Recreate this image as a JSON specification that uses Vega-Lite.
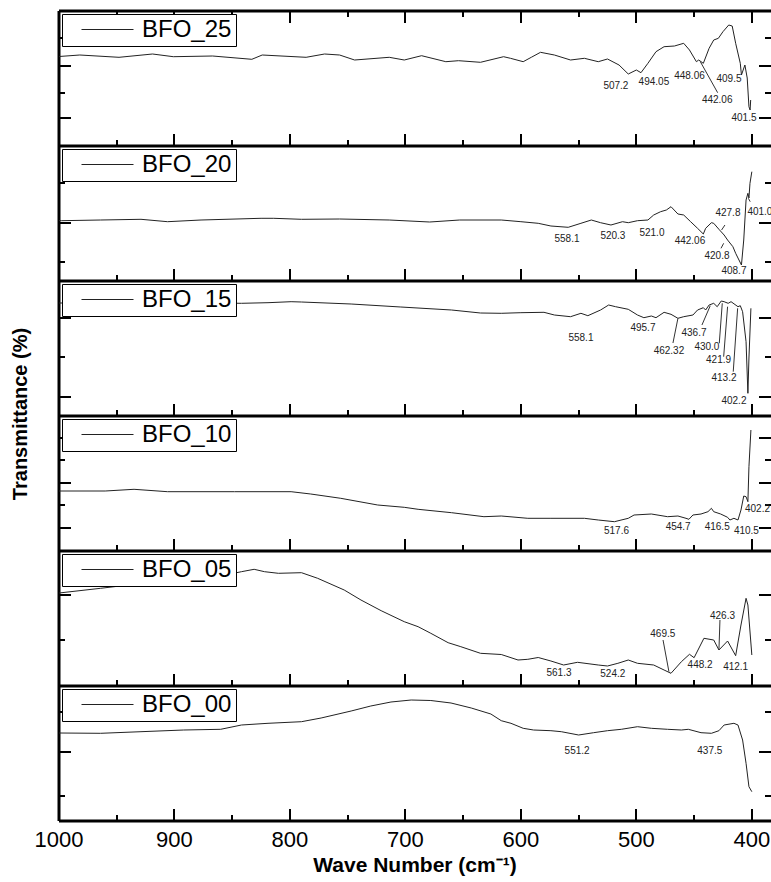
{
  "$schema": "https://vega.github.io/schema/vega-lite/v6.json",
  "background": "white",
  "padding": {"left": 10, "top": 10, "right": 0, "bottom": 0},
  "autosize": {"type": "pad"},
  "spacing": 0,
  "bounds": "flush",
  "resolve": {"scale": {"color": "independent"}, "legend": {"color": "independent"}},
  "datasets": {
    "spectra": [
      {"s":"BFO_25","w":1000,"t":89.5},{"s":"BFO_25","w":982,"t":91},{"s":"BFO_25","w":948,"t":88.7},{"s":"BFO_25","w":919,"t":92},{"s":"BFO_25","w":901,"t":89.3},{"s":"BFO_25","w":867,"t":90},{"s":"BFO_25","w":833,"t":86.7},{"s":"BFO_25","w":824,"t":91},{"s":"BFO_25","w":786,"t":88.7},{"s":"BFO_25","w":770,"t":92},{"s":"BFO_25","w":757,"t":91},{"s":"BFO_25","w":744,"t":86},{"s":"BFO_25","w":714,"t":88.7},{"s":"BFO_25","w":701,"t":86},{"s":"BFO_25","w":686,"t":90.3},{"s":"BFO_25","w":665,"t":84.3},{"s":"BFO_25","w":654,"t":85.3},{"s":"BFO_25","w":635,"t":83.7},{"s":"BFO_25","w":615,"t":89.3},{"s":"BFO_25","w":609,"t":87.7},{"s":"BFO_25","w":598,"t":84.3},{"s":"BFO_25","w":591,"t":88.7},{"s":"BFO_25","w":583,"t":93.7},{"s":"BFO_25","w":571,"t":91},{"s":"BFO_25","w":557,"t":86},{"s":"BFO_25","w":545,"t":87.7},{"s":"BFO_25","w":533,"t":84.3},{"s":"BFO_25","w":525,"t":87},{"s":"BFO_25","w":515,"t":81},{"s":"BFO_25","w":507,"t":72},{"s":"BFO_25","w":500,"t":76},{"s":"BFO_25","w":496,"t":73.3},{"s":"BFO_25","w":490,"t":82.7},{"s":"BFO_25","w":483,"t":94.3},{"s":"BFO_25","w":476,"t":99.3},{"s":"BFO_25","w":467,"t":100},{"s":"BFO_25","w":459,"t":102.7},{"s":"BFO_25","w":454,"t":96},{"s":"BFO_25","w":448,"t":84.3},{"s":"BFO_25","w":446,"t":86},{"s":"BFO_25","w":442,"t":82.7},{"s":"BFO_25","w":437,"t":97.7},{"s":"BFO_25","w":433,"t":106},{"s":"BFO_25","w":429,"t":107.7},{"s":"BFO_25","w":425,"t":114.3},{"s":"BFO_25","w":420,"t":121},{"s":"BFO_25","w":417,"t":120},{"s":"BFO_25","w":414,"t":102.7},{"s":"BFO_25","w":410,"t":82.7},{"s":"BFO_25","w":409,"t":71},{"s":"BFO_25","w":406,"t":81},{"s":"BFO_25","w":404,"t":68},{"s":"BFO_25","w":402.5,"t":39.3},{"s":"BFO_25","w":401.5,"t":36},{"s":"BFO_25","w":401,"t":46},
      {"s":"BFO_20","w":1000,"t":60.5},{"s":"BFO_20","w":998,"t":60.3},{"s":"BFO_20","w":964,"t":61},{"s":"BFO_20","w":929,"t":61.7},{"s":"BFO_20","w":906,"t":59.3},{"s":"BFO_20","w":877,"t":61},{"s":"BFO_20","w":825,"t":62.7},{"s":"BFO_20","w":814,"t":62.7},{"s":"BFO_20","w":790,"t":61.7},{"s":"BFO_20","w":757,"t":62},{"s":"BFO_20","w":714,"t":61},{"s":"BFO_20","w":679,"t":59},{"s":"BFO_20","w":653,"t":61},{"s":"BFO_20","w":617,"t":61},{"s":"BFO_20","w":600,"t":59.3},{"s":"BFO_20","w":585,"t":57.7},{"s":"BFO_20","w":574,"t":55},{"s":"BFO_20","w":559,"t":53.7},{"s":"BFO_20","w":548,"t":57.7},{"s":"BFO_20","w":539,"t":61},{"s":"BFO_20","w":531,"t":58.3},{"s":"BFO_20","w":522,"t":56},{"s":"BFO_20","w":512,"t":59.3},{"s":"BFO_20","w":507,"t":58.3},{"s":"BFO_20","w":499,"t":60.3},{"s":"BFO_20","w":490,"t":61},{"s":"BFO_20","w":485,"t":66},{"s":"BFO_20","w":479,"t":69.3},{"s":"BFO_20","w":474,"t":71},{"s":"BFO_20","w":470,"t":74.3},{"s":"BFO_20","w":464,"t":67},{"s":"BFO_20","w":459,"t":66},{"s":"BFO_20","w":453,"t":59.3},{"s":"BFO_20","w":447,"t":52.7},{"s":"BFO_20","w":442,"t":47},{"s":"BFO_20","w":440,"t":52.7},{"s":"BFO_20","w":435,"t":58.3},{"s":"BFO_20","w":433,"t":57.7},{"s":"BFO_20","w":428.5,"t":51.7},{"s":"BFO_20","w":424,"t":46},{"s":"BFO_20","w":421,"t":41},{"s":"BFO_20","w":416.4,"t":34.3},{"s":"BFO_20","w":414,"t":27.7},{"s":"BFO_20","w":409,"t":16},{"s":"BFO_20","w":407,"t":41},{"s":"BFO_20","w":405,"t":81},{"s":"BFO_20","w":403.4,"t":87.7},{"s":"BFO_20","w":402.5,"t":83},{"s":"BFO_20","w":401.6,"t":97.7},{"s":"BFO_20","w":400,"t":109.3},
      {"s":"BFO_15","w":1000,"t":113},{"s":"BFO_15","w":950,"t":113},{"s":"BFO_15","w":900,"t":113.5},{"s":"BFO_15","w":842,"t":112.7},{"s":"BFO_15","w":819,"t":113.3},{"s":"BFO_15","w":799,"t":114.3},{"s":"BFO_15","w":790,"t":114},{"s":"BFO_15","w":747,"t":112},{"s":"BFO_15","w":704,"t":109},{"s":"BFO_15","w":660,"t":106},{"s":"BFO_15","w":635,"t":103},{"s":"BFO_15","w":617,"t":102.7},{"s":"BFO_15","w":600,"t":103.3},{"s":"BFO_15","w":580,"t":103.7},{"s":"BFO_15","w":571,"t":101},{"s":"BFO_15","w":557,"t":99.3},{"s":"BFO_15","w":548,"t":102.7},{"s":"BFO_15","w":542,"t":100.3},{"s":"BFO_15","w":531,"t":106},{"s":"BFO_15","w":524,"t":111},{"s":"BFO_15","w":518,"t":109.3},{"s":"BFO_15","w":507,"t":106.7},{"s":"BFO_15","w":499,"t":101},{"s":"BFO_15","w":493.5,"t":98.3},{"s":"BFO_15","w":487,"t":100},{"s":"BFO_15","w":483,"t":98.3},{"s":"BFO_15","w":476,"t":103.7},{"s":"BFO_15","w":470,"t":101.7},{"s":"BFO_15","w":464,"t":97.7},{"s":"BFO_15","w":459,"t":99.3},{"s":"BFO_15","w":451,"t":101},{"s":"BFO_15","w":447,"t":106},{"s":"BFO_15","w":442,"t":108.3},{"s":"BFO_15","w":440,"t":106},{"s":"BFO_15","w":437,"t":111},{"s":"BFO_15","w":433,"t":112.7},{"s":"BFO_15","w":430,"t":109.3},{"s":"BFO_15","w":426.5,"t":115},{"s":"BFO_15","w":424,"t":114.3},{"s":"BFO_15","w":420.5,"t":112.7},{"s":"BFO_15","w":418,"t":114.3},{"s":"BFO_15","w":412,"t":109.3},{"s":"BFO_15","w":410,"t":110.3},{"s":"BFO_15","w":408,"t":104.3},{"s":"BFO_15","w":405,"t":74.3},{"s":"BFO_15","w":403.4,"t":22.7},{"s":"BFO_15","w":402.5,"t":58},{"s":"BFO_15","w":400.8,"t":107.7},
      {"s":"BFO_10","w":1000,"t":60},{"s":"BFO_10","w":960,"t":60},{"s":"BFO_10","w":935,"t":61.7},{"s":"BFO_10","w":906,"t":59.3},{"s":"BFO_10","w":848,"t":59.3},{"s":"BFO_10","w":799,"t":59.3},{"s":"BFO_10","w":782,"t":57},{"s":"BFO_10","w":756,"t":52.7},{"s":"BFO_10","w":724,"t":46},{"s":"BFO_10","w":701,"t":43.7},{"s":"BFO_10","w":689,"t":41.7},{"s":"BFO_10","w":660,"t":38.3},{"s":"BFO_10","w":632,"t":34.3},{"s":"BFO_10","w":617,"t":35},{"s":"BFO_10","w":594,"t":32.7},{"s":"BFO_10","w":574,"t":32.7},{"s":"BFO_10","w":545,"t":32.7},{"s":"BFO_10","w":533,"t":31},{"s":"BFO_10","w":519,"t":29.3},{"s":"BFO_10","w":507,"t":32.7},{"s":"BFO_10","w":502,"t":36},{"s":"BFO_10","w":487,"t":37},{"s":"BFO_10","w":473,"t":34.3},{"s":"BFO_10","w":464,"t":35},{"s":"BFO_10","w":457,"t":32.7},{"s":"BFO_10","w":454.5,"t":31.7},{"s":"BFO_10","w":451,"t":36},{"s":"BFO_10","w":444,"t":37},{"s":"BFO_10","w":438,"t":39.3},{"s":"BFO_10","w":435,"t":42.7},{"s":"BFO_10","w":433,"t":39.3},{"s":"BFO_10","w":427,"t":37},{"s":"BFO_10","w":421,"t":33.7},{"s":"BFO_10","w":419,"t":31},{"s":"BFO_10","w":415.5,"t":32.7},{"s":"BFO_10","w":412,"t":31},{"s":"BFO_10","w":409.4,"t":41},{"s":"BFO_10","w":407,"t":55},{"s":"BFO_10","w":405,"t":54.3},{"s":"BFO_10","w":403.4,"t":49.3},{"s":"BFO_10","w":402.5,"t":84.3},{"s":"BFO_10","w":400.8,"t":121},
      {"s":"BFO_05","w":1000,"t":93},{"s":"BFO_05","w":964,"t":97.7},{"s":"BFO_05","w":923,"t":103.3},{"s":"BFO_05","w":880,"t":108},{"s":"BFO_05","w":860,"t":110},{"s":"BFO_05","w":842,"t":114.3},{"s":"BFO_05","w":831,"t":116.7},{"s":"BFO_05","w":822,"t":114.3},{"s":"BFO_05","w":810,"t":112.7},{"s":"BFO_05","w":790,"t":113.3},{"s":"BFO_05","w":776,"t":107.7},{"s":"BFO_05","w":753,"t":96},{"s":"BFO_05","w":738.5,"t":86},{"s":"BFO_05","w":721,"t":75.3},{"s":"BFO_05","w":701,"t":64.3},{"s":"BFO_05","w":689,"t":59.3},{"s":"BFO_05","w":678,"t":52.7},{"s":"BFO_05","w":663,"t":43.3},{"s":"BFO_05","w":652,"t":39.3},{"s":"BFO_05","w":635,"t":32.7},{"s":"BFO_05","w":617,"t":31.5},{"s":"BFO_05","w":602.5,"t":26},{"s":"BFO_05","w":594,"t":26.7},{"s":"BFO_05","w":585,"t":28.5},{"s":"BFO_05","w":574,"t":25},{"s":"BFO_05","w":563,"t":21},{"s":"BFO_05","w":551,"t":23.7},{"s":"BFO_05","w":533,"t":21},{"s":"BFO_05","w":525,"t":20},{"s":"BFO_05","w":516,"t":22.7},{"s":"BFO_05","w":507,"t":26},{"s":"BFO_05","w":499,"t":22.7},{"s":"BFO_05","w":485,"t":21},{"s":"BFO_05","w":476,"t":16},{"s":"BFO_05","w":470,"t":12.7},{"s":"BFO_05","w":461,"t":24.3},{"s":"BFO_05","w":454,"t":31.7},{"s":"BFO_05","w":450,"t":28.3},{"s":"BFO_05","w":441.5,"t":47.7},{"s":"BFO_05","w":433,"t":46},{"s":"BFO_05","w":428.5,"t":36},{"s":"BFO_05","w":421,"t":45},{"s":"BFO_05","w":414,"t":30.3},{"s":"BFO_05","w":409.4,"t":61},{"s":"BFO_05","w":405,"t":87.7},{"s":"BFO_05","w":403.4,"t":81},{"s":"BFO_05","w":400,"t":31},
      {"s":"BFO_00","w":1000,"t":88},{"s":"BFO_00","w":964,"t":87.7},{"s":"BFO_00","w":929,"t":89.3},{"s":"BFO_00","w":892,"t":91},{"s":"BFO_00","w":860,"t":91.7},{"s":"BFO_00","w":842,"t":96},{"s":"BFO_00","w":819,"t":97.7},{"s":"BFO_00","w":790,"t":99.3},{"s":"BFO_00","w":773,"t":103},{"s":"BFO_00","w":747,"t":110},{"s":"BFO_00","w":730,"t":115},{"s":"BFO_00","w":712.5,"t":119},{"s":"BFO_00","w":695,"t":121},{"s":"BFO_00","w":678,"t":120.5},{"s":"BFO_00","w":660.5,"t":118},{"s":"BFO_00","w":643,"t":113},{"s":"BFO_00","w":626,"t":107},{"s":"BFO_00","w":617,"t":100.3},{"s":"BFO_00","w":608.6,"t":97.7},{"s":"BFO_00","w":598,"t":92.7},{"s":"BFO_00","w":589,"t":91},{"s":"BFO_00","w":574,"t":90.3},{"s":"BFO_00","w":565,"t":89.3},{"s":"BFO_00","w":550,"t":86},{"s":"BFO_00","w":537,"t":88.3},{"s":"BFO_00","w":525,"t":90.3},{"s":"BFO_00","w":513,"t":91.7},{"s":"BFO_00","w":499,"t":94.3},{"s":"BFO_00","w":487,"t":92.7},{"s":"BFO_00","w":473,"t":91.7},{"s":"BFO_00","w":461,"t":91},{"s":"BFO_00","w":455,"t":91.7},{"s":"BFO_00","w":444,"t":88.3},{"s":"BFO_00","w":435,"t":87.7},{"s":"BFO_00","w":428.5,"t":90.3},{"s":"BFO_00","w":424,"t":96},{"s":"BFO_00","w":415.5,"t":97.7},{"s":"BFO_00","w":412,"t":96},{"s":"BFO_00","w":408,"t":81},{"s":"BFO_00","w":405,"t":57.7},{"s":"BFO_00","w":402.5,"t":34.3},{"s":"BFO_00","w":400,"t":29.3}
    ],
    "labels": [
      {"s":"BFO_25","w":517.7,"t":60,"text":"507.2"},{"s":"BFO_25","w":484.8,"t":64.5,"text":"494.05"},{"s":"BFO_25","w":454,"t":70.5,"text":"448.06"},{"s":"BFO_25","w":419.8,"t":67,"text":"409.5"},{"s":"BFO_25","w":430,"t":46,"text":"442.06"},{"s":"BFO_25","w":406.8,"t":27.7,"text":"401.5"},
      {"s":"BFO_20","w":560.1,"t":42,"text":"558.1"},{"s":"BFO_20","w":520.3,"t":45,"text":"520.3"},{"s":"BFO_20","w":486.5,"t":48,"text":"521.0"},{"s":"BFO_20","w":453.6,"t":40,"text":"442.06"},{"s":"BFO_20","w":420.7,"t":68,"text":"427.8"},{"s":"BFO_20","w":393,"t":69,"text":"401.0"},{"s":"BFO_20","w":430.2,"t":25,"text":"420.8"},{"s":"BFO_20","w":415.5,"t":10,"text":"408.7"},
      {"s":"BFO_15","w":548,"t":78.3,"text":"558.1"},{"s":"BFO_15","w":494.3,"t":88,"text":"495.7"},{"s":"BFO_15","w":471.8,"t":65,"text":"462.32"},{"s":"BFO_15","w":450.1,"t":82.7,"text":"436.7"},{"s":"BFO_15","w":438.9,"t":69.3,"text":"430.0"},{"s":"BFO_15","w":428.8,"t":56.3,"text":"421.9"},{"s":"BFO_15","w":424.1,"t":37.7,"text":"413.2"},{"s":"BFO_15","w":415.5,"t":15.3,"text":"402.2"},
      {"s":"BFO_10","w":517.2,"t":20.3,"text":"517.6"},{"s":"BFO_10","w":463.8,"t":24.3,"text":"454.7"},{"s":"BFO_10","w":430,"t":24.3,"text":"416.5"},{"s":"BFO_10","w":404.7,"t":19.7,"text":"410.5"},{"s":"BFO_10","w":395.1,"t":42,"text":"402.2"},
      {"s":"BFO_05","w":567,"t":12.7,"text":"561.3"},{"s":"BFO_05","w":520.4,"t":11.8,"text":"524.2"},{"s":"BFO_05","w":477.1,"t":51.8,"text":"469.5"},{"s":"BFO_05","w":444.8,"t":21,"text":"448.2"},{"s":"BFO_05","w":425.4,"t":70.2,"text":"426.3"},{"s":"BFO_05","w":414,"t":19.2,"text":"412.1"},
      {"s":"BFO_00","w":551.3,"t":69.7,"text":"551.2"},{"s":"BFO_00","w":436.4,"t":69.7,"text":"437.5"}
    ],
    "leaders": [
      {"s":"BFO_25","w":444.6,"t":84.3,"w2":429.6,"t2":53.3},
      {"s":"BFO_20","w":426.2,"t":51,"w2":423.3,"t2":56},{"s":"BFO_20","w":426.7,"t":32.7,"w2":424.4,"t2":37.7},{"s":"BFO_20","w":403,"t":82.7,"w2":401.4,"t2":79.3},
      {"s":"BFO_15","w":468.3,"t":73,"w2":464,"t2":97.7},{"s":"BFO_15","w":443.2,"t":91,"w2":436,"t2":110.3},{"s":"BFO_15","w":428.2,"t":72.7,"w2":425.6,"t2":112.7},{"s":"BFO_15","w":424.4,"t":59.3,"w2":421,"t2":109.3},{"s":"BFO_15","w":416.1,"t":44.3,"w2":412.3,"t2":107.7},
      {"s":"BFO_05","w":476.9,"t":46,"w2":471.8,"t2":14.3},{"s":"BFO_05","w":427.6,"t":66,"w2":428.5,"t2":36}
    ]
  },
  "vconcat": [
    {
      "width": 712, "height": 135,
      "resolve": {"axis": {"x": "independent", "y": "independent"}},
      "layer": [
        {"data": {"name": "spectra"}, "transform": [{"filter": "datum.s === 'BFO_25'"}],
         "mark": {"type": "line", "strokeWidth": 1, "clip": true},
         "encoding": {
           "x": {"field": "w", "type": "quantitative", "scale": {"domain": [383.4, 1000], "reverse": true, "nice": false, "zero": false},
                 "axis": {"orient": "bottom", "values": [1000,950,900,850,800,750,700,650,600,550,500,450,400], "tickSize": {"condition": {"test": "datum.value % 100 === 0", "value": -12}, "value": -6}, "labels": false, "title": null}},
           "y": {"field": "t", "type": "quantitative", "scale": {"domain": [0, 135], "nice": false, "zero": false},
                 "axis": {"orient": "left", "values": [28,53,80,108], "tickSize": {"condition": {"test": "indexof([28,80], datum.value) >= 0", "value": -12}, "value": -6}, "labels": false, "title": null}},
           "color": {"field": "s", "type": "nominal", "scale": {"range": ["#222222"]}, "legend": {"title": null}}
         }},
        {"data": {"name": "labels"}, "transform": [{"filter": "datum.s === 'BFO_25'"}],
         "mark": {"type": "text", "clip": true},
         "encoding": {
           "x": {"field": "w", "type": "quantitative", "axis": {"orient": "top", "values": [1000,950,900,850,800,750,700,650,600,550,500,450,400], "tickSize": {"condition": {"test": "datum.value % 100 === 0", "value": -12}, "value": -6}, "labels": false, "title": null}},
           "y": {"field": "t", "type": "quantitative", "axis": {"orient": "right", "values": [28,53,80,108], "tickSize": {"condition": {"test": "indexof([28,80], datum.value) >= 0", "value": -12}, "value": -6}, "labels": false, "title": null, "domain": false}},
           "text": {"field": "text"}
         }},
        {"data": {"name": "leaders"}, "transform": [{"filter": "datum.s === 'BFO_25'"}],
         "mark": {"type": "rule", "stroke": "#333333", "strokeWidth": 1},
         "encoding": {
           "x": {"field": "w", "type": "quantitative", "axis": null}, "x2": {"field": "w2"},
           "y": {"field": "t", "type": "quantitative", "axis": null}, "y2": {"field": "t2"}
         }}
      ]
    },
    {
      "width": 712, "height": 135,
      "resolve": {"axis": {"x": "independent", "y": "independent"}},
      "layer": [
        {"data": {"name": "spectra"}, "transform": [{"filter": "datum.s === 'BFO_20'"}],
         "mark": {"type": "line", "strokeWidth": 1, "clip": true},
         "encoding": {
           "x": {"field": "w", "type": "quantitative", "scale": {"domain": [383.4, 1000], "reverse": true, "nice": false, "zero": false},
                 "axis": {"orient": "bottom", "values": [1000,950,900,850,800,750,700,650,600,550,500,450,400], "tickSize": {"condition": {"test": "datum.value % 100 === 0", "value": -12}, "value": -6}, "labels": false, "title": null}},
           "y": {"field": "t", "type": "quantitative", "scale": {"domain": [0, 135], "nice": false, "zero": false},
                 "axis": {"orient": "left", "values": [19,58,98], "tickSize": {"condition": {"test": "datum.value === 58", "value": -12}, "value": -6}, "labels": false, "title": null}},
           "color": {"field": "s", "type": "nominal", "scale": {"range": ["#222222"]}, "legend": {"title": null}}
         }},
        {"data": {"name": "labels"}, "transform": [{"filter": "datum.s === 'BFO_20'"}],
         "mark": {"type": "text", "clip": true},
         "encoding": {
           "x": {"field": "w", "type": "quantitative", "axis": null},
           "y": {"field": "t", "type": "quantitative", "axis": {"orient": "right", "values": [19,58,98], "tickSize": {"condition": {"test": "datum.value === 58", "value": -12}, "value": -6}, "labels": false, "title": null, "domain": false}},
           "text": {"field": "text"}
         }},
        {"data": {"name": "leaders"}, "transform": [{"filter": "datum.s === 'BFO_20'"}],
         "mark": {"type": "rule", "stroke": "#333333", "strokeWidth": 1},
         "encoding": {
           "x": {"field": "w", "type": "quantitative", "axis": null}, "x2": {"field": "w2"},
           "y": {"field": "t", "type": "quantitative", "axis": null}, "y2": {"field": "t2"}
         }}
      ]
    },
    {
      "width": 712, "height": 135,
      "resolve": {"axis": {"x": "independent", "y": "independent"}},
      "layer": [
        {"data": {"name": "spectra"}, "transform": [{"filter": "datum.s === 'BFO_15'"}],
         "mark": {"type": "line", "strokeWidth": 1, "clip": true},
         "encoding": {
           "x": {"field": "w", "type": "quantitative", "scale": {"domain": [383.4, 1000], "reverse": true, "nice": false, "zero": false},
                 "axis": {"orient": "bottom", "values": [1000,950,900,850,800,750,700,650,600,550,500,450,400], "tickSize": {"condition": {"test": "datum.value % 100 === 0", "value": -12}, "value": -6}, "labels": false, "title": null}},
           "y": {"field": "t", "type": "quantitative", "scale": {"domain": [0, 135], "nice": false, "zero": false},
                 "axis": {"orient": "left", "values": [19,59,98], "tickSize": {"condition": {"test": "datum.value !== 59", "value": -12}, "value": -6}, "labels": false,
                          "title": "Transmittance (%)", "titleFontSize": 20, "titleFontWeight": "bold", "titleColor": "#000000", "titleX": -38, "titleY": 133, "titleAngle": -90, "titleAlign": "center", "titleBaseline": "middle"}},
           "color": {"field": "s", "type": "nominal", "scale": {"range": ["#222222"]}, "legend": {"title": null}}
         }},
        {"data": {"name": "labels"}, "transform": [{"filter": "datum.s === 'BFO_15'"}],
         "mark": {"type": "text", "clip": true},
         "encoding": {
           "x": {"field": "w", "type": "quantitative", "axis": null},
           "y": {"field": "t", "type": "quantitative", "axis": {"orient": "right", "values": [19,59,98], "tickSize": {"condition": {"test": "datum.value !== 59", "value": -12}, "value": -6}, "labels": false, "title": null, "domain": false}},
           "text": {"field": "text"}
         }},
        {"data": {"name": "leaders"}, "transform": [{"filter": "datum.s === 'BFO_15'"}],
         "mark": {"type": "rule", "stroke": "#333333", "strokeWidth": 1},
         "encoding": {
           "x": {"field": "w", "type": "quantitative", "axis": null}, "x2": {"field": "w2"},
           "y": {"field": "t", "type": "quantitative", "axis": null}, "y2": {"field": "t2"}
         }}
      ]
    },
    {
      "width": 712, "height": 135,
      "resolve": {"axis": {"x": "independent", "y": "independent"}},
      "layer": [
        {"data": {"name": "spectra"}, "transform": [{"filter": "datum.s === 'BFO_10'"}],
         "mark": {"type": "line", "strokeWidth": 1, "clip": true},
         "encoding": {
           "x": {"field": "w", "type": "quantitative", "scale": {"domain": [383.4, 1000], "reverse": true, "nice": false, "zero": false},
                 "axis": {"orient": "bottom", "values": [1000,950,900,850,800,750,700,650,600,550,500,450,400], "tickSize": {"condition": {"test": "datum.value % 100 === 0", "value": -12}, "value": -6}, "labels": false, "title": null}},
           "y": {"field": "t", "type": "quantitative", "scale": {"domain": [0, 135], "nice": false, "zero": false},
                 "axis": {"orient": "left", "values": [23,46,68,91,113], "tickSize": {"condition": {"test": "indexof([23,68,113], datum.value) >= 0", "value": -12}, "value": -6}, "labels": false, "title": null}},
           "color": {"field": "s", "type": "nominal", "scale": {"range": ["#222222"]}, "legend": {"title": null}}
         }},
        {"data": {"name": "labels"}, "transform": [{"filter": "datum.s === 'BFO_10'"}],
         "mark": {"type": "text", "clip": true},
         "encoding": {
           "x": {"field": "w", "type": "quantitative", "axis": null},
           "y": {"field": "t", "type": "quantitative", "axis": {"orient": "right", "values": [23,46,68,91,113], "tickSize": {"condition": {"test": "indexof([23,68,113], datum.value) >= 0", "value": -12}, "value": -6}, "labels": false, "title": null, "domain": false}},
           "text": {"field": "text"}
         }},
        {"data": {"name": "leaders"}, "transform": [{"filter": "datum.s === 'BFO_10'"}],
         "mark": {"type": "rule", "stroke": "#333333", "strokeWidth": 1},
         "encoding": {
           "x": {"field": "w", "type": "quantitative", "axis": null}, "x2": {"field": "w2"},
           "y": {"field": "t", "type": "quantitative", "axis": null}, "y2": {"field": "t2"}
         }}
      ]
    },
    {
      "width": 712, "height": 135,
      "resolve": {"axis": {"x": "independent", "y": "independent"}},
      "layer": [
        {"data": {"name": "spectra"}, "transform": [{"filter": "datum.s === 'BFO_05'"}],
         "mark": {"type": "line", "strokeWidth": 1, "clip": true},
         "encoding": {
           "x": {"field": "w", "type": "quantitative", "scale": {"domain": [383.4, 1000], "reverse": true, "nice": false, "zero": false},
                 "axis": {"orient": "bottom", "values": [1000,950,900,850,800,750,700,650,600,550,500,450,400], "tickSize": {"condition": {"test": "datum.value % 100 === 0", "value": -12}, "value": -6}, "labels": false, "title": null}},
           "y": {"field": "t", "type": "quantitative", "scale": {"domain": [0, 135], "nice": false, "zero": false},
                 "axis": {"orient": "left", "values": [46,91], "tickSize": {"condition": {"test": "datum.value === 91", "value": -12}, "value": -6}, "labels": false, "title": null}},
           "color": {"field": "s", "type": "nominal", "scale": {"range": ["#222222"]}, "legend": {"title": null}}
         }},
        {"data": {"name": "labels"}, "transform": [{"filter": "datum.s === 'BFO_05'"}],
         "mark": {"type": "text", "clip": true},
         "encoding": {
           "x": {"field": "w", "type": "quantitative", "axis": null},
           "y": {"field": "t", "type": "quantitative", "axis": {"orient": "right", "values": [46,91], "tickSize": {"condition": {"test": "datum.value === 91", "value": -12}, "value": -6}, "labels": false, "title": null, "domain": false}},
           "text": {"field": "text"}
         }},
        {"data": {"name": "leaders"}, "transform": [{"filter": "datum.s === 'BFO_05'"}],
         "mark": {"type": "rule", "stroke": "#333333", "strokeWidth": 1},
         "encoding": {
           "x": {"field": "w", "type": "quantitative", "axis": null}, "x2": {"field": "w2"},
           "y": {"field": "t", "type": "quantitative", "axis": null}, "y2": {"field": "t2"}
         }}
      ]
    },
    {
      "width": 712, "height": 135,
      "resolve": {"axis": {"x": "independent", "y": "independent"}},
      "layer": [
        {"data": {"name": "spectra"}, "transform": [{"filter": "datum.s === 'BFO_00'"}],
         "mark": {"type": "line", "strokeWidth": 1, "clip": true},
         "encoding": {
           "x": {"field": "w", "type": "quantitative", "scale": {"domain": [383.4, 1000], "reverse": true, "nice": false, "zero": false},
                 "axis": {"orient": "bottom", "values": [1000,950,900,850,800,750,700,650,600,550,500,450,400], "tickSize": {"condition": {"test": "datum.value % 100 === 0", "value": -12}, "value": -6},
                          "labels": true, "format": "d", "labelExpr": "datum.value % 100 === 0 ? datum.label : ''", "labelFontSize": 22, "labelColor": "#000000", "labelPadding": 21, "labelFlush": false, "labelOverlap": false, "labelBound": false,
                          "title": "Wave Number (cm⁻¹)", "titleFontSize": 21, "titleFontWeight": "bold", "titleColor": "#000000", "titlePadding": -2}},
           "y": {"field": "t", "type": "quantitative", "scale": {"domain": [0, 135], "nice": false, "zero": false},
                 "axis": {"orient": "left", "values": [25.5,69,109.5], "tickSize": {"condition": {"test": "datum.value === 69", "value": -12}, "value": -6}, "labels": false, "title": null}},
           "color": {"field": "s", "type": "nominal", "scale": {"range": ["#222222"]}, "legend": {"title": null}}
         }},
        {"data": {"name": "labels"}, "transform": [{"filter": "datum.s === 'BFO_00'"}],
         "mark": {"type": "text", "clip": true},
         "encoding": {
           "x": {"field": "w", "type": "quantitative", "axis": null},
           "y": {"field": "t", "type": "quantitative", "axis": {"orient": "right", "values": [25.5,69,109.5], "tickSize": {"condition": {"test": "datum.value === 69", "value": -12}, "value": -6}, "labels": false, "title": null, "domain": false}},
           "text": {"field": "text"}
         }},
        {"data": {"name": "leaders"}, "transform": [{"filter": "datum.s === 'BFO_00'"}],
         "mark": {"type": "rule", "stroke": "#333333", "strokeWidth": 1},
         "encoding": {
           "x": {"field": "w", "type": "quantitative", "axis": null}, "x2": {"field": "w2"},
           "y": {"field": "t", "type": "quantitative", "axis": null}, "y2": {"field": "t2"}
         }}
      ]
    }
  ],
  "config": {
    "view": {"stroke": null},
    "font": "Liberation Sans",
    "axis": {"grid": false, "ticks": true, "tickColor": "#000000", "tickWidth": 2, "domain": true, "domainColor": "#000000", "domainWidth": 3, "labelFont": "Liberation Sans", "titleFont": "Liberation Sans", "translate": 0},
    "text": {"font": "Liberation Sans", "fontSize": 10, "fill": "#222222", "align": "center", "baseline": "middle"},
    "legend": {"orient": "top-left", "offset": 3, "padding": 4, "fillColor": "#ffffff", "strokeColor": "#000000",
               "symbolType": "stroke", "symbolSize": 2704, "symbolStrokeWidth": 1, "symbolOffset": 15,
               "labelFont": "Liberation Sans", "labelFontSize": 24, "labelColor": "#000000", "labelOffset": 8, "labelLimit": 0, "clipHeight": 23}
  }
}
